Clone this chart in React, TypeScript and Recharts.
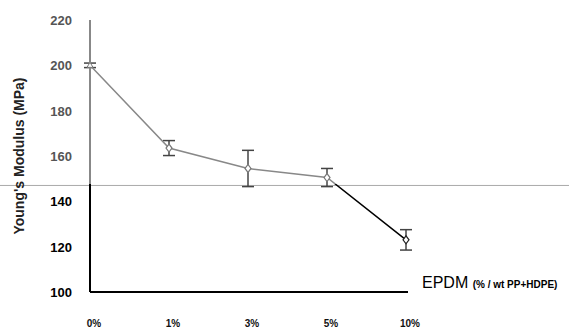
import { CartesianGrid, ErrorBar, Label, Line, LineChart, ReferenceLine, XAxis, YAxis } from "recharts";

const categories = ["0%", "1%", "3%", "5%", "10%"];
const modulus = [200, 163.5, 154.5, 150.5, 123];
const errors = [1, 3.3, 8, 4, 4.5];
const yTicks = [100, 120, 140, 160, 180, 200, 220];
const scanLine = 147;

const data = categories.map((c, i) => ({ epdm: c, value: modulus[i], err: errors[i] }));

const W = 569;
const H = 331;

function YTick(props: any) {
    const { x, y, payload } = props;
    const fill = payload.value > scanLine ? "#555" : "#000";
    return (
        <text x={x} y={y} dy={5} textAnchor="end" fill={fill} fontSize={13} fontWeight="bold" fontFamily="Liberation Sans, Arial, sans-serif">
            {payload.value}
        </text>
    );
}

function XTick(props: any) {
    const { x, y, payload } = props;
    return (
        <text x={x + 4} y={y} dy={27} textAnchor="middle" fill="#111" fontSize={10} fontWeight="bold" fontFamily="Liberation Sans Narrow, Liberation Sans, sans-serif">
            {payload.value}
        </text>
    );
}

function Marker(props: any) {
    const { cx, cy, index } = props;
    const c = cy < 184 ? "#777" : "#222";
    if (index === 0) {
        return <path d={`M${cx - 3},${cy + 2} L${cx},${cy - 3} L${cx + 3},${cy + 2} Z`} fill="#fff" stroke={c} strokeWidth={1} />;
    }
    return <path d={`M${cx - 3},${cy} L${cx},${cy - 4} L${cx + 3},${cy} L${cx},${cy + 4} Z`} fill="#fff" stroke={c} strokeWidth={1.2} />;
}

export default function App() {
    return (
        <div style={{ position: "absolute", left: 0, top: 0, background: "#fff" }}>
            <LineChart width={W} height={H} data={data} margin={{ top: 20, right: 161, bottom: 0, left: 0 }}>
                <defs>
                    <linearGradient id="scan" gradientUnits="userSpaceOnUse" x1="0" y1="0" x2="0" y2={H}>
                        <stop offset="0.556" stopColor="#888" />
                        <stop offset="0.556" stopColor="#000" />
                    </linearGradient>
                </defs>
                <CartesianGrid horizontal={false} vertical={false} />
                <ReferenceLine
                    y={scanLine}
                    stroke="#aaa"
                    shape={(p: any) => <line x1={0} x2={W} y1={p.y1} y2={p.y2} stroke="#aaa" strokeWidth={1} />}
                />
                <XAxis
                    dataKey="epdm"
                    height={39}
                    padding={{ left: 0, right: 2 }}
                    tickLine={false}
                    axisLine={{ stroke: "#000", strokeWidth: 2 }}
                    tick={<XTick />}
                    interval={0}
                >
                    <Label
                        content={(p: any) => (
                            <text x={p.viewBox.x + p.viewBox.width + 14} y={p.viewBox.y - 4} fontFamily="Liberation Sans Narrow, Liberation Sans, sans-serif" fill="#000">
                                <tspan fontSize={16}>EPDM </tspan>
                                <tspan fontSize={10} fontWeight="bold">(% / wt PP+HDPE)</tspan>
                            </text>
                        )}
                    />
                </XAxis>
                <YAxis
                    width={90}
                    domain={[100, 220]}
                    ticks={yTicks}
                    tickLine={false}
                    axisLine={{ stroke: "url(#scan)", strokeWidth: 2 }}
                    tick={<YTick />}
                    tickMargin={12}
                >
                    <Label
                        content={(p: any) => {
                            const cy = p.viewBox.y + p.viewBox.height / 2;
                            return (
                                <text x={24} y={cy} transform={`rotate(-90 24 ${cy})`} textAnchor="middle" fontSize={14} fontWeight="bold" fill="#222" fontFamily="Liberation Sans, Arial, sans-serif">
                                    Young's Modulus (MPa)
                                </text>
                            );
                        }}
                    />
                </YAxis>
                <Line
                    dataKey="value"
                    stroke="url(#scan)"
                    strokeWidth={1.5}
                    dot={<Marker />}
                    isAnimationActive={false}
                >
                    <ErrorBar dataKey="err" width={6} stroke="#444" strokeWidth={1.5} isAnimationActive={false} />
                </Line>
            </LineChart>
        </div>
    );
}
